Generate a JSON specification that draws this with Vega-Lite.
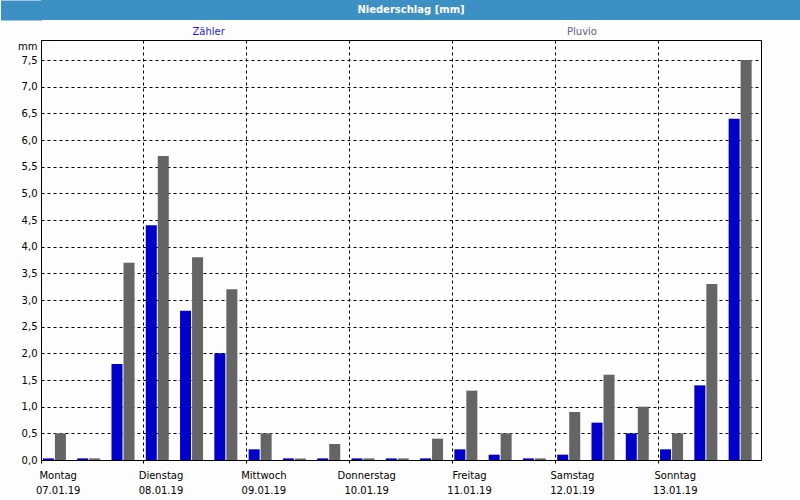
{
  "$schema": "https://vega.github.io/schema/vega-lite/v6.json",
  "padding": 0,
  "background": "#fcfdfc",
  "columns": 1,
  "align": "none",
  "bounds": "full",
  "spacing": 6,
  "resolve": {"scale": {"color": "independent"}, "legend": {"color": "independent"}},
  "config": {
    "font": "DejaVu Sans",
    "view": {"stroke": "#000000", "strokeWidth": 1},
    "axis": {"labelFont": "DejaVu Sans", "labelFontSize": 10, "labelColor": "#000000", "titleFont": "DejaVu Sans", "titleColor": "#000000"},
    "legend": {"labelFont": "DejaVu Sans"}
  },
  "concat": [
    {
      "width": 760,
      "height": 20,
      "view": {"fill": "#3d90c4", "stroke": null},
      "data": {"values": [{"title": "Niederschlag [mm]"}]},
      "mark": {"type": "text", "font": "DejaVu Sans", "fontSize": 10, "fontWeight": "bold", "color": "#ffffff", "dx": -10},
      "encoding": {
        "text": {"field": "title"},
        "y": {
          "field": "title", "type": "nominal",
          "scale": {"type": "band", "paddingInner": 0, "paddingOuter": 0},
          "axis": {"title": null, "labels": false, "ticks": false, "grid": false, "domain": true, "domainColor": "#3d90c4", "domainWidth": 41, "domainCap": "butt", "offset": 20}
        }
      }
    },
    {
      "width": 720,
      "height": 420,
      "data": {"values": [
        {"slot": "Montag 07.01.19 1", "series": "Zähler", "value": 0.03},
        {"slot": "Montag 07.01.19 1", "series": "Pluvio", "value": 0.5},
        {"slot": "Montag 07.01.19 2", "series": "Zähler", "value": 0.03},
        {"slot": "Montag 07.01.19 2", "series": "Pluvio", "value": 0.03},
        {"slot": "Montag 07.01.19 3", "series": "Zähler", "value": 1.8},
        {"slot": "Montag 07.01.19 3", "series": "Pluvio", "value": 3.7},
        {"slot": "Dienstag 08.01.19 1", "series": "Zähler", "value": 4.4},
        {"slot": "Dienstag 08.01.19 1", "series": "Pluvio", "value": 5.7},
        {"slot": "Dienstag 08.01.19 2", "series": "Zähler", "value": 2.8},
        {"slot": "Dienstag 08.01.19 2", "series": "Pluvio", "value": 3.8},
        {"slot": "Dienstag 08.01.19 3", "series": "Zähler", "value": 2.0},
        {"slot": "Dienstag 08.01.19 3", "series": "Pluvio", "value": 3.2},
        {"slot": "Mittwoch 09.01.19 1", "series": "Zähler", "value": 0.2},
        {"slot": "Mittwoch 09.01.19 1", "series": "Pluvio", "value": 0.5},
        {"slot": "Mittwoch 09.01.19 2", "series": "Zähler", "value": 0.03},
        {"slot": "Mittwoch 09.01.19 2", "series": "Pluvio", "value": 0.03},
        {"slot": "Mittwoch 09.01.19 3", "series": "Zähler", "value": 0.03},
        {"slot": "Mittwoch 09.01.19 3", "series": "Pluvio", "value": 0.3},
        {"slot": "Donnerstag 10.01.19 1", "series": "Zähler", "value": 0.03},
        {"slot": "Donnerstag 10.01.19 1", "series": "Pluvio", "value": 0.03},
        {"slot": "Donnerstag 10.01.19 2", "series": "Zähler", "value": 0.03},
        {"slot": "Donnerstag 10.01.19 2", "series": "Pluvio", "value": 0.03},
        {"slot": "Donnerstag 10.01.19 3", "series": "Zähler", "value": 0.03},
        {"slot": "Donnerstag 10.01.19 3", "series": "Pluvio", "value": 0.4},
        {"slot": "Freitag 11.01.19 1", "series": "Zähler", "value": 0.2},
        {"slot": "Freitag 11.01.19 1", "series": "Pluvio", "value": 1.3},
        {"slot": "Freitag 11.01.19 2", "series": "Zähler", "value": 0.1},
        {"slot": "Freitag 11.01.19 2", "series": "Pluvio", "value": 0.5},
        {"slot": "Freitag 11.01.19 3", "series": "Zähler", "value": 0.03},
        {"slot": "Freitag 11.01.19 3", "series": "Pluvio", "value": 0.03},
        {"slot": "Samstag 12.01.19 1", "series": "Zähler", "value": 0.1},
        {"slot": "Samstag 12.01.19 1", "series": "Pluvio", "value": 0.9},
        {"slot": "Samstag 12.01.19 2", "series": "Zähler", "value": 0.7},
        {"slot": "Samstag 12.01.19 2", "series": "Pluvio", "value": 1.6},
        {"slot": "Samstag 12.01.19 3", "series": "Zähler", "value": 0.5},
        {"slot": "Samstag 12.01.19 3", "series": "Pluvio", "value": 1.0},
        {"slot": "Sonntag 13.01.19 1", "series": "Zähler", "value": 0.2},
        {"slot": "Sonntag 13.01.19 1", "series": "Pluvio", "value": 0.5},
        {"slot": "Sonntag 13.01.19 2", "series": "Zähler", "value": 1.4},
        {"slot": "Sonntag 13.01.19 2", "series": "Pluvio", "value": 3.3},
        {"slot": "Sonntag 13.01.19 3", "series": "Zähler", "value": 6.4},
        {"slot": "Sonntag 13.01.19 3", "series": "Pluvio", "value": 7.5}
      ]},
      "mark": {"type": "bar", "cornerRadius": 0},
      "encoding": {
        "x": {
          "field": "slot", "type": "nominal", "sort": null,
          "scale": {"type": "band", "paddingInner": 0, "paddingOuter": 0},
          "axis": {
            "title": null,
            "values": ["Montag 07.01.19 1", "Dienstag 08.01.19 1", "Mittwoch 09.01.19 1", "Donnerstag 10.01.19 1", "Freitag 11.01.19 1", "Samstag 12.01.19 1", "Sonntag 13.01.19 1"],
            "bandPosition": 0,
            "labelExpr": "slice(split(datum.value, ' '), 0, 2)",
            "labelAngle": 0,
            "labelBaseline": "top",
            "labelLineHeight": 15,
            "labelPadding": 7,
            "tickSize": 3,
            "tickColor": "#000000",
            "domain": false,
            "grid": true,
            "gridColor": "#000000",
            "gridDash": [3, 3],
            "gridOpacity": 1
          }
        },
        "xOffset": {
          "field": "series", "type": "nominal", "sort": ["Zähler", "Pluvio"],
          "scale": {"paddingInner": 0.083, "paddingOuter": 0.47, "align": 0.17}
        },
        "y": {
          "field": "value", "type": "quantitative",
          "scale": {"domain": [0, 7.875], "nice": false, "zero": true},
          "axis": {
            "title": "mm",
            "titleAngle": 0,
            "titleAlign": "right",
            "titleBaseline": "middle",
            "titleX": -4,
            "titleY": 6,
            "titleFontSize": 10,
            "titleFontWeight": "normal",
            "values": [0, 0.5, 1, 1.5, 2, 2.5, 3, 3.5, 4, 4.5, 5, 5.5, 6, 6.5, 7, 7.5],
            "labelExpr": "replace(format(datum.value, '.1f'), '.', ',')",
            "labelPadding": 4,
            "tickSize": 0,
            "domain": false,
            "minExtent": 40,
            "grid": true,
            "gridColor": "#000000",
            "gridDash": [3, 3],
            "gridOpacity": 1
          }
        },
        "color": {
          "field": "series", "type": "nominal",
          "scale": {"domain": ["Zähler", "Pluvio"], "range": ["#0000c8", "#656565"]},
          "legend": {
            "title": null,
            "orient": "none",
            "legendX": 141.5,
            "legendY": -13,
            "direction": "horizontal",
            "columns": 2,
            "symbolSize": 0,
            "symbolStrokeWidth": 0,
            "symbolOpacity": 0,
            "labelOffset": 0,
            "columnPadding": 331.5,
            "labelFontSize": 10,
            "encode": {"labels": {"update": {"fill": {"signal": "datum.value === 'Zähler' ? '#1c1cd8' : '#60608c'"}}}}
          }
        }
      }
    }
  ]
}
